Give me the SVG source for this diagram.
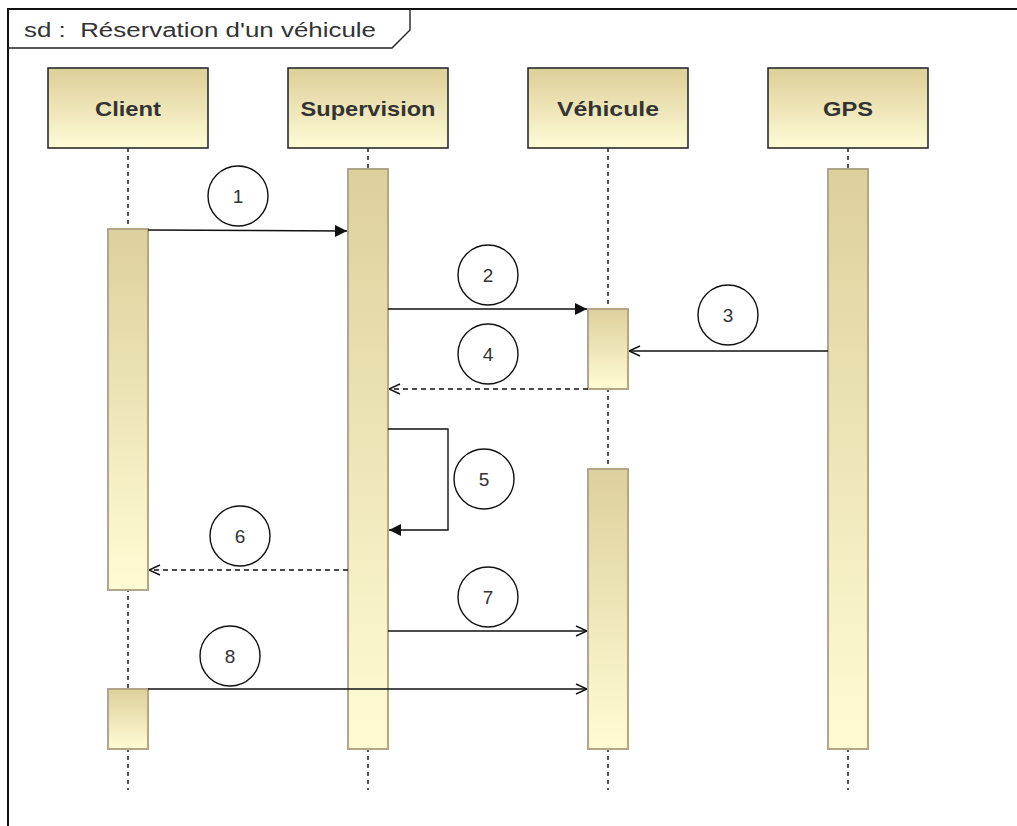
<svg xmlns="http://www.w3.org/2000/svg" width="1017" height="826" viewBox="0 0 1017 826">
<style>
.head{stroke:#2a2a2a;stroke-width:1.6;fill:url(#gh)}
.act{stroke:#b3a688;stroke-width:2;fill:url(#ga)}
.life{stroke:#222;stroke-width:1.5;stroke-dasharray:4,4;fill:none}
.msg{stroke:#111;stroke-width:1.4;fill:none}
.ret{stroke:#111;stroke-width:1.4;fill:none;stroke-dasharray:5,4}
.num{fill:#fff;stroke:#111;stroke-width:1.4}
.t{font-family:"Liberation Sans",Arial,sans-serif;fill:#333}
.ht{font-size:21px;font-weight:bold;text-anchor:middle}
.nt{font-size:19px;text-anchor:middle}
</style>
<defs>
<linearGradient id="gh" x1="0" y1="0" x2="0" y2="1"><stop offset="0" stop-color="#dccf98"/><stop offset="1" stop-color="#fffbd6"/></linearGradient>
<linearGradient id="ga" x1="0" y1="0" x2="0" y2="1"><stop offset="0" stop-color="#ddd09c"/><stop offset="1" stop-color="#fffcd4"/></linearGradient>
<marker id="fa" viewBox="0 0 12 12" refX="12" refY="6" markerWidth="12" markerHeight="12" markerUnits="userSpaceOnUse" orient="auto"><path d="M0,0 L12,6 L0,12 Z" fill="#111"/></marker>
<marker id="oa" viewBox="0 0 12 12" refX="12" refY="6" markerWidth="12" markerHeight="12" markerUnits="userSpaceOnUse" orient="auto"><path d="M1,1 L12,6 L1,11" fill="none" stroke="#111" stroke-width="1.4"/></marker>
</defs>
<rect width="1017" height="826" fill="#fff"/>
<g id="frame">
<path d="M8,830 L8,9 L1020,9" fill="none" stroke="#111" stroke-width="2"/>
<path d="M8,48 L392,48 L410,30 L410,9" fill="none" stroke="#222" stroke-width="1.4"/>
<text class="t" x="24" y="37" font-size="20" textLength="352" lengthAdjust="spacingAndGlyphs" style="white-space:pre">sd :  Réservation d'un véhicule</text>
</g>
<g id="lifelines">
<line class="life" x1="128" y1="148" x2="128" y2="790"/>
<line class="life" x1="368" y1="148" x2="368" y2="790"/>
<line class="life" x1="608" y1="148" x2="608" y2="790"/>
<line class="life" x1="848" y1="148" x2="848" y2="790"/>
</g>
<g id="client">
<rect class="head" x="48" y="68" width="160" height="80"/>
<text class="t ht" x="128" y="116" textLength="66" lengthAdjust="spacingAndGlyphs">Client</text>
<rect class="act" x="108" y="229" width="40" height="361"/>
<rect class="act" x="108" y="689" width="40" height="60"/>
</g>
<g id="supervision">
<rect class="head" x="288" y="68" width="160" height="80"/>
<text class="t ht" x="368" y="116" textLength="135" lengthAdjust="spacingAndGlyphs">Supervision</text>
<rect class="act" x="348" y="169" width="40" height="580"/>
</g>
<g id="vehicule">
<rect class="head" x="528" y="68" width="160" height="80"/>
<text class="t ht" x="608" y="116" textLength="102" lengthAdjust="spacingAndGlyphs">Véhicule</text>
<rect class="act" x="588" y="309" width="40" height="80"/>
<rect class="act" x="588" y="469" width="40" height="280"/>
</g>
<g id="gps">
<rect class="head" x="768" y="68" width="160" height="80"/>
<text class="t ht" x="848" y="116" textLength="50" lengthAdjust="spacingAndGlyphs">GPS</text>
<rect class="act" x="828" y="169" width="40" height="580"/>
</g>
<g id="connectors">
<line class="msg" x1="148" y1="230" x2="347" y2="231" marker-end="url(#fa)"/>
<line class="msg" x1="388" y1="309" x2="587" y2="309" marker-end="url(#fa)"/>
<line class="msg" x1="828" y1="351" x2="629" y2="351" marker-end="url(#oa)"/>
<line class="ret" x1="588" y1="389" x2="389" y2="389" marker-end="url(#oa)"/>
<path class="msg" d="M388,429 L448,429 L448,530 L389,530" marker-end="url(#fa)"/>
<line class="ret" x1="348" y1="570" x2="149" y2="570" marker-end="url(#oa)"/>
<line class="msg" x1="388" y1="631" x2="587" y2="631" marker-end="url(#oa)"/>
<line class="msg" x1="148" y1="689" x2="587" y2="689" marker-end="url(#oa)"/>
</g>
<g id="labels">
<circle class="num" cx="238" cy="196" r="30"/><text class="t nt" x="238" y="203">1</text>
<circle class="num" cx="488" cy="275" r="30"/><text class="t nt" x="488" y="282">2</text>
<circle class="num" cx="728" cy="315" r="30"/><text class="t nt" x="728" y="322">3</text>
<circle class="num" cx="488" cy="354" r="30"/><text class="t nt" x="488" y="361">4</text>
<circle class="num" cx="484" cy="479" r="30"/><text class="t nt" x="484" y="486">5</text>
<circle class="num" cx="240" cy="536" r="30"/><text class="t nt" x="240" y="543">6</text>
<circle class="num" cx="488" cy="597" r="30"/><text class="t nt" x="488" y="604">7</text>
<circle class="num" cx="230" cy="656" r="30"/><text class="t nt" x="230" y="663">8</text>
</g>
</svg>
